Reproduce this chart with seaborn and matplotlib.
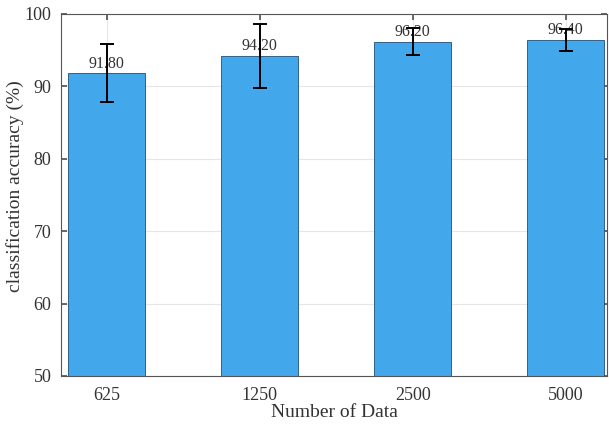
import matplotlib
matplotlib.use("Agg")
import matplotlib.pyplot as plt
import seaborn as sns
import pandas as pd
import numpy as np

categories = ["625", "1250", "2500", "5000"]
accuracy = [91.80, 94.20, 96.20, 96.40]
errors = [4.0, 4.4, 1.9, 1.5]
value_labels = ["91.80", "94.20", "96.20", "96.40"]

sns.set_theme(style="white")
plt.rcParams['font.family'] = ['Liberation Serif', 'DejaVu Serif']

df = pd.DataFrame({"n": categories, "acc": accuracy})

fig = plt.figure(figsize=(6.09, 4.28), dpi=100)
ax = fig.add_axes([61/609, 1-376/428, 546/609, 362/428])

sns.barplot(data=df, x="n", y="acc", ax=ax, color="#42A7EB", width=0.503,
            edgecolor="#1F4E79", linewidth=0.6, saturation=1, zorder=2)
x = np.arange(len(categories))
ax.errorbar(x, accuracy, yerr=errors, fmt="none", ecolor="black",
            elinewidth=1.4, capsize=5, capthick=1.4, zorder=4)
for xi, v, lab in zip(x, accuracy, value_labels):
    ax.text(xi, v + 0.25, lab, ha="center", va="bottom", fontsize=11.5,
            color="#333333", zorder=3)

ax.set_ylim(50, 100)
ax.set_xlim(-0.30, 3.27)
ax.set_yticks([50, 60, 70, 80, 90, 100])
ax.grid(True, color="#E6E6E6", linewidth=0.8, zorder=0)
ax.set_axisbelow(True)
for s in ax.spines.values():
    s.set_color("#555555")
    s.set_linewidth(0.8)
ax.tick_params(direction="in", length=4, color="#555555", labelsize=13,
               labelcolor="#333333", top=True, right=True, bottom=True, left=True)
ax.tick_params(axis="y", pad=7)
ax.tick_params(axis="x", pad=8)
ax.set_xlabel("Number of Data", fontsize=14, color="#333333", labelpad=0)
ax.set_ylabel("classification accuracy (%)", fontsize=14, color="#333333")
ax.yaxis.set_label_coords(-0.068, 0.525)

fig.savefig("out.png", dpi=100)
